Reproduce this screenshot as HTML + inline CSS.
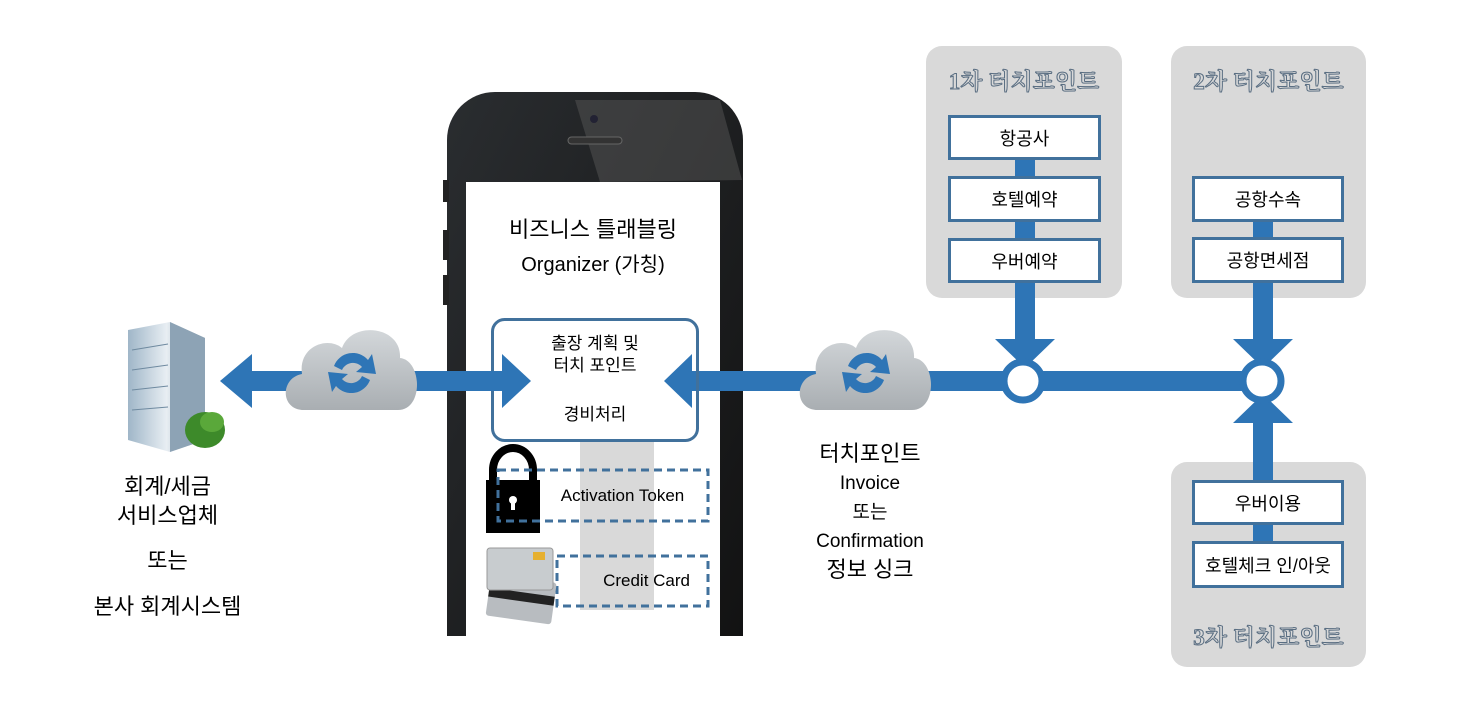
<!DOCTYPE html><html><head><meta charset="utf-8"><style>
body{margin:0;width:1476px;height:726px;background:#fff;position:relative;overflow:hidden;font-family:"Liberation Sans","Noto Sans CJK KR",sans-serif}
.a{position:absolute}
.t{position:absolute;text-align:center;white-space:nowrap;color:#000}
.panel{position:absolute;background:#d9d9d9;border-radius:16px}
.box{position:absolute;background:#fff;border:3px solid #41719c;box-sizing:border-box;font-size:18px;text-align:center;display:flex;align-items:center;justify-content:center}
.ttl{position:absolute;font-size:23px;font-weight:bold;color:#d9d9d9;-webkit-text-stroke:1px #5a6e82;text-align:center;font-family:"Liberation Serif","Noto Serif CJK SC",serif}
</style></head><body>
<svg class="a" style="left:0;top:0" width="1476" height="726">
<defs><linearGradient id="cg" x1="0" y1="0" x2="0" y2="1"><stop offset="0" stop-color="#d3d7da"/><stop offset="1" stop-color="#a9aeb2"/></linearGradient>
<linearGradient id="ph" x1="0" y1="0" x2="1" y2="1"><stop offset="0" stop-color="#2a2d30"/><stop offset="1" stop-color="#111"/></linearGradient>
<linearGradient id="bd" x1="0" y1="0" x2="1" y2="0"><stop offset="0" stop-color="#9fb6c8"/><stop offset=".5" stop-color="#e8eef3"/><stop offset="1" stop-color="#7f93a3"/></linearGradient>
<g id="cloud"><path d="M-48,40 C-72,40 -72,8 -50,4 C-54,-24 -24,-34 -10,-22 C0,-50 50,-44 48,-12 C70,-10 72,40 46,40 Z" fill="url(#cg)"/>
<path d="M-18,-4 A20,20 0 0 1 16,-10 l4,-6 l4,20 l-20,-2 l6,-5 A12,12 0 0 0 -10,0 Z M18,10 A20,20 0 0 1 -16,16 l-4,6 l-4,-20 l20,2 l-6,5 A12,12 0 0 0 10,6 Z" fill="#2e75b6"/></g></defs>
<rect x="447" y="92" width="296" height="600" rx="48" fill="url(#ph)"/>
<polygon points="575,100 720,100 742,180 600,182" fill="#555" opacity=".5"/>
<rect x="443" y="180" width="6" height="22" fill="#222"/><rect x="443" y="230" width="6" height="30" fill="#222"/><rect x="443" y="275" width="6" height="30" fill="#222"/>
<circle cx="594" cy="119" r="4" fill="#223"/><rect x="568" y="137" width="54" height="7" rx="3.5" fill="#333" stroke="#666"/>
<rect x="466" y="182" width="254" height="460" fill="#fff"/>
<rect x="440" y="636" width="310" height="90" fill="#fff"/>
<rect x="580" y="440" width="74" height="170" fill="#d9d9d9"/>
<rect x="250" y="371" width="255" height="20" fill="#2e75b6"/>
<polygon points="220,381 252,354 252,408" fill="#2e75b6"/>
<rect x="690" y="371" width="575" height="20" fill="#2e75b6"/>
<use href="#cloud" x="352" y="370"/>
<use href="#cloud" x="866" y="370"/>
<rect x="1015" y="280" width="20" height="70" fill="#2e75b6"/>
<polygon points="995,339 1055,339 1025,368" fill="#2e75b6"/>
<rect x="1253" y="280" width="20" height="70" fill="#2e75b6"/>
<polygon points="1233,339 1293,339 1263,368" fill="#2e75b6"/>
<rect x="1253" y="410" width="20" height="60" fill="#2e75b6"/>
<polygon points="1233,423 1293,423 1263,394" fill="#2e75b6"/>
<circle cx="1023" cy="381" r="19" fill="#fff" stroke="#2e75b6" stroke-width="7"/>
<circle cx="1262" cy="381" r="19" fill="#fff" stroke="#2e75b6" stroke-width="7"/>
<polygon points="128,330 170,322 205,338 205,440 170,452 128,440" fill="url(#bd)"/>
<polygon points="170,322 205,338 205,440 170,452" fill="#8da3b5"/>
<g stroke="#6f8aa0" stroke-width="1">
<line x1="132" y1="350" x2="168" y2="344"/><line x1="132" y1="370" x2="168" y2="365"/><line x1="132" y1="390" x2="168" y2="386"/><line x1="132" y1="410" x2="168" y2="407"/></g>
<ellipse cx="205" cy="430" rx="20" ry="18" fill="#3d8a2a"/><ellipse cx="212" cy="422" rx="12" ry="10" fill="#5aa83a"/>
<path d="M493,482 v-12 a20,22 0 0 1 40,0 v12" fill="none" stroke="#000" stroke-width="8"/>
<rect x="486" y="480" width="54" height="53" fill="#000"/>
<circle cx="513" cy="500" r="4" fill="#fff"/><rect x="511" y="500" width="4" height="10" fill="#fff"/>
<rect x="498" y="470" width="210" height="51" fill="none" stroke="#41719c" stroke-width="3" stroke-dasharray="8,5"/>
<rect x="557" y="556" width="151" height="50" fill="none" stroke="#41719c" stroke-width="3" stroke-dasharray="8,5"/>
<g transform="rotate(8 520 600)"><rect x="488" y="578" width="66" height="42" rx="3" fill="#b8bcc0"/><rect x="488" y="592" width="66" height="9" fill="#222"/></g>
<rect x="487" y="548" width="66" height="42" rx="3" fill="#c8cccf" stroke="#999"/>
<rect x="533" y="552" width="12" height="8" fill="#e6b030"/>
<rect x="492.5" y="319.5" width="205" height="121" rx="12" fill="none" stroke="#41719c" stroke-width="3"/>
<polygon points="531,381 502,354 502,408" fill="#2e75b6"/><rect x="480" y="371" width="24" height="20" fill="#2e75b6"/>
<polygon points="664,381 692,354 692,408" fill="#2e75b6"/>
</svg>

<div class="t" style="left:466px;width:254px;top:212px;font-size:22px">비즈니스 틀래블링</div>
<div class="t" style="left:466px;width:254px;top:248px;font-size:20px">Organizer (가칭)</div>
<div class="t" style="left:492px;width:206px;top:333px;font-size:17px;line-height:22px">출장 계획 및<br>터치 포인트</div>
<div class="t" style="left:492px;width:206px;top:400px;font-size:17px">경비처리</div>
<div class="t" style="left:545px;width:155px;top:486px;font-size:17px">Activation Token</div>
<div class="t" style="left:560px;top:571px;font-size:17px;text-align:right;width:130px">Credit Card</div>

<div class="t" style="left:60px;width:215px;top:472px;font-size:22px;line-height:29px">회계/세금<br>서비스업체</div>
<div class="t" style="left:60px;width:215px;top:543px;font-size:22px">또는</div>
<div class="t" style="left:60px;width:215px;top:589px;font-size:22px">본사 회계시스템</div>

<div class="t" style="left:770px;width:200px;top:436px;font-size:22px">터치포인트</div>
<div class="t" style="left:770px;width:200px;top:469px;font-size:19px;line-height:29px">Invoice<br>또는<br>Confirmation</div>
<div class="t" style="left:770px;width:200px;top:552px;font-size:22px">정보 싱크</div>

<div class="panel" style="left:926px;top:46px;width:196px;height:252px"></div>
<div class="panel" style="left:1171px;top:46px;width:195px;height:252px"></div>
<div class="panel" style="left:1171px;top:462px;width:195px;height:205px"></div>
<svg class="a" style="left:0;top:0" width="1476" height="726">
<rect x="1015" y="158" width="20" height="90" fill="#2e75b6"/><rect x="1015" y="280" width="20" height="20" fill="#2e75b6"/>
<rect x="1253" y="220" width="20" height="80" fill="#2e75b6"/><rect x="1253" y="462" width="20" height="90" fill="#2e75b6"/></svg>
<div class="ttl" style="left:926px;width:196px;top:63px">1차 터치포인트</div>
<div class="ttl" style="left:1171px;width:195px;top:63px">2차 터치포인트</div>
<div class="ttl" style="left:1171px;width:195px;top:619px">3차 터치포인트</div>
<div class="box" style="left:948px;top:115px;width:153px;height:45px">항공사</div>
<div class="box" style="left:948px;top:176px;width:153px;height:46px">호텔예약</div>
<div class="box" style="left:948px;top:238px;width:153px;height:45px">우버예약</div>
<div class="box" style="left:1192px;top:176px;width:152px;height:46px">공항수속</div>
<div class="box" style="left:1192px;top:237px;width:152px;height:46px">공항면세점</div>
<div class="box" style="left:1192px;top:480px;width:152px;height:45px">우버이용</div>
<div class="box" style="left:1192px;top:541px;width:152px;height:47px">호텔체크 인/아웃</div>
</body></html>
